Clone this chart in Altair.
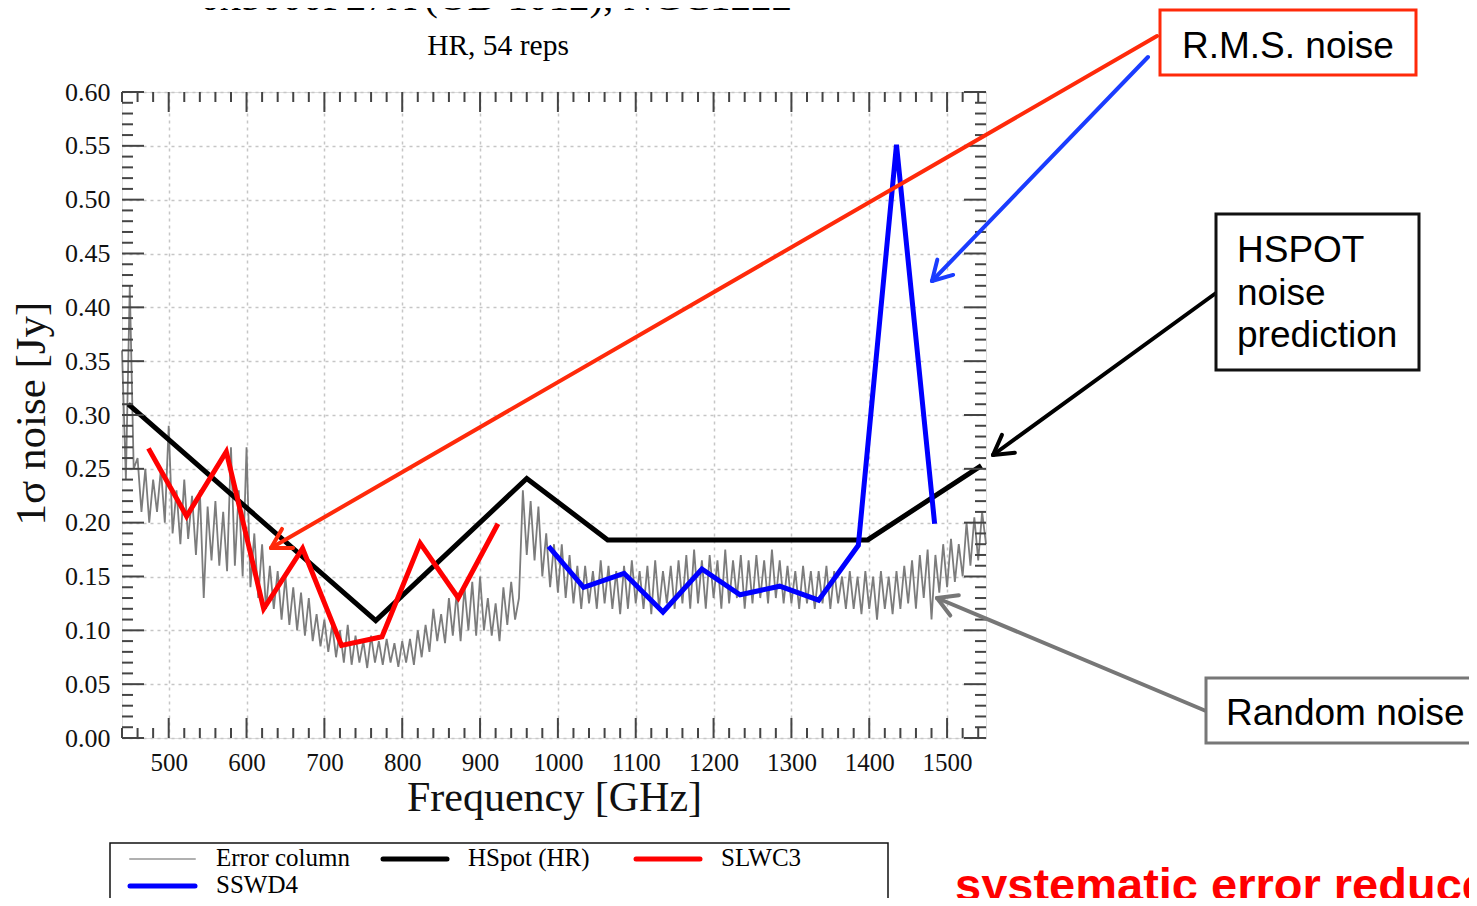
import math
import altair as alt
import pandas as pd

# ---------------- data ----------------
err_freq = list(range(440, 1551, 5))
err_vals = [
    0.36, 0.24, 0.42, 0.25, 0.26, 0.21, 0.25, 0.20, 0.24, 0.21,
    0.25, 0.20, 0.29, 0.19, 0.23, 0.18, 0.24, 0.185, 0.225, 0.17,
    0.23, 0.13, 0.215, 0.165, 0.22, 0.16, 0.21, 0.155, 0.27, 0.16,
    0.23, 0.15, 0.27, 0.14, 0.19, 0.13, 0.18, 0.12, 0.16, 0.12,
    0.155, 0.11, 0.15, 0.105, 0.14, 0.10, 0.135, 0.095, 0.13, 0.09,
    0.115, 0.085, 0.11, 0.08, 0.105, 0.075, 0.10, 0.07, 0.105, 0.068,
    0.095, 0.07, 0.09, 0.065, 0.095, 0.07, 0.09, 0.068, 0.092, 0.07,
    0.088, 0.066, 0.09, 0.07, 0.092, 0.068, 0.10, 0.075, 0.105, 0.08,
    0.12, 0.09, 0.115, 0.088, 0.13, 0.095, 0.135, 0.09, 0.14, 0.10,
    0.145, 0.095, 0.15, 0.10, 0.13, 0.095, 0.125, 0.09, 0.14, 0.105,
    0.145, 0.11, 0.13, 0.23, 0.17, 0.22, 0.165, 0.215, 0.15, 0.19,
    0.14, 0.18, 0.135, 0.18, 0.13, 0.17, 0.125, 0.16, 0.12, 0.16,
    0.125, 0.155, 0.12, 0.165, 0.125, 0.16, 0.12, 0.155, 0.115, 0.16,
    0.12, 0.165, 0.125, 0.155, 0.12, 0.16, 0.115, 0.165, 0.12, 0.155,
    0.125, 0.16, 0.12, 0.165, 0.125, 0.17, 0.12, 0.175, 0.125, 0.165,
    0.12, 0.17, 0.13, 0.165, 0.12, 0.175, 0.125, 0.165, 0.13, 0.17,
    0.12, 0.165, 0.125, 0.17, 0.13, 0.165, 0.125, 0.175, 0.13, 0.165,
    0.125, 0.16, 0.125, 0.155, 0.12, 0.16, 0.125, 0.155, 0.12, 0.155,
    0.125, 0.16, 0.12, 0.155, 0.125, 0.15, 0.12, 0.155, 0.12, 0.15,
    0.115, 0.155, 0.12, 0.15, 0.11, 0.155, 0.12, 0.15, 0.115, 0.155,
    0.12, 0.16, 0.125, 0.165, 0.12, 0.17, 0.13, 0.175, 0.11, 0.17,
    0.135, 0.18, 0.14, 0.185, 0.145, 0.18, 0.15, 0.20, 0.16, 0.205,
    0.165, 0.21, 0.18,
]

hspot_f = [448, 766, 960, 1064, 1398, 1544]
hspot_v = [0.310, 0.109, 0.241, 0.184, 0.184, 0.253]

slwc3_f = [474, 523, 574, 622, 672, 722, 774, 823, 872, 923]
slwc3_v = [0.269, 0.206, 0.266, 0.120, 0.176, 0.086, 0.094, 0.181, 0.130, 0.199]

sswd4_f = [988, 1033, 1085, 1135, 1185, 1234, 1285, 1335, 1386, 1435, 1484]
sswd4_v = [0.178, 0.140, 0.153, 0.117, 0.157, 0.133, 0.141, 0.128, 0.179, 0.551, 0.199]

x_major = [500, 600, 700, 800, 900, 1000, 1100, 1200, 1300, 1400, 1500]
x_minor = [f for f in range(440, 1550, 20) if f % 100 != 0]
y_major = [0.0, 0.05, 0.10, 0.15, 0.20, 0.25, 0.30, 0.35, 0.40, 0.45, 0.50, 0.55, 0.60]
y_minor = [i / 100 for i in range(0, 61) if i % 5 != 0]

# ---------------- layout ----------------
W, H = 864, 646
OX, OY = 122, 92          # page position of plot origin
SERIF = "Liberation Serif"
SANS = "Liberation Sans"

xs = alt.Scale(domain=[440, 1550], nice=False, zero=False)
ys = alt.Scale(domain=[0, 0.6], nice=False, zero=False)


def rx(x):
    return x - OX


def ry(y):
    return y - OY


xaxis = alt.Axis(values=x_major, format="d", ticks=False, tickSize=0, domain=False,
                 grid=True, gridColor="#c6c6c6", gridDash=[3, 4], gridWidth=1.5,
                 labelFont=SERIF, labelFontSize=25, labelColor="#111", labelPadding=12,
                 labelFlush=False, labelOverlap=False,
                 title="Frequency [GHz]", titleFont=SERIF, titleFontSize=42,
                 titleFontWeight="normal", titleColor="#111", titleY=72,
                 titleBaseline="alphabetic")
yaxis = alt.Axis(values=y_major, format=".2f", ticks=False, tickSize=0, domain=False,
                 grid=True, gridColor="#c6c6c6", gridDash=[3, 4], gridWidth=1.5,
                 labelFont=SERIF, labelFontSize=26, labelColor="#111", labelPadding=12,
                 labelFlush=False, labelOverlap=False,
                 title="1σ noise [Jy]", titleFont=SERIF, titleFontSize=43,
                 titleFontWeight="normal", titleColor="#111", titleX=-78, titleY=H / 2 - 2,
                 titleAngle=-90, titleBaseline="alphabetic", titleAlign="center")

XF = alt.X("f:Q", scale=xs, axis=xaxis)
YV = alt.Y("v:Q", scale=ys, axis=yaxis)

err_df = pd.DataFrame({"f": err_freq, "v": err_vals})
gray = alt.Chart(err_df).mark_line(color="#7c7c7c", strokeWidth=1.8).encode(x=XF, y=YV)


def series(fs, vs, color, width):
    return alt.Chart(pd.DataFrame({"f": fs, "v": vs})).mark_line(
        color=color, strokeWidth=width, strokeJoin="miter").encode(x=XF, y=YV)


black = series(hspot_f, hspot_v, "#000000", 5)
red = series(slwc3_f, slwc3_v, "#ff0000", 5)
blue = series(sswd4_f, sswd4_v, "#0000ff", 5)

# ---- ticks on all four sides (inward) ----
tick_col = "#444444"


def xticks(vals, length):
    d = pd.DataFrame({"f": vals})
    base = alt.Chart(d).mark_rule(color=tick_col, strokeWidth=2)
    b = base.encode(x=XF, y=alt.value(H), y2=alt.value(H - length))
    t = base.encode(x=XF, y=alt.value(0), y2=alt.value(length))
    return [b, t]


def yticks(vals, length):
    d = pd.DataFrame({"v": vals})
    base = alt.Chart(d).mark_rule(color=tick_col, strokeWidth=2)
    l = base.encode(y=YV, x=alt.value(0), x2=alt.value(length))
    r = base.encode(y=YV, x=alt.value(W), x2=alt.value(W - length))
    return [l, r]


ticks = xticks(x_major, 20) + xticks(x_minor, 10) + yticks(y_major, 22) + yticks(y_minor, 11)


# ---- annotations (pixel positions) ----
def seg_layer(segs, color, width):
    d = pd.DataFrame(segs, columns=["px", "py", "px2", "py2"])
    return alt.Chart(d).mark_rule(color=color, strokeWidth=width, strokeCap="round").encode(
        x=alt.X("px:Q", scale=None), y=alt.Y("py:Q", scale=None),
        x2="px2:Q", y2="py2:Q")


def arrow(start, tip, color, width=4, L=22, ang=30):
    sx, sy = rx(start[0]), ry(start[1])
    tx, ty = rx(tip[0]), ry(tip[1])
    dx, dy = sx - tx, sy - ty
    n = math.hypot(dx, dy)
    dx, dy = dx / n, dy / n
    segs = [(sx, sy, tx, ty)]
    for a in (ang, -ang):
        r = math.radians(a)
        hx = dx * math.cos(r) - dy * math.sin(r)
        hy = dx * math.sin(r) + dy * math.cos(r)
        segs.append((tx, ty, tx + L * hx, ty + L * hy))
    return seg_layer(segs, color, width)


def box(x1, y1, x2, y2, color, width):
    d = pd.DataFrame({"px": [rx(x1)], "px2": [rx(x2)], "py": [ry(y1)], "py2": [ry(y2)]})
    return alt.Chart(d).mark_rect(fill="white", stroke=color, strokeWidth=width).encode(
        x=alt.X("px:Q", scale=None), x2="px2:Q",
        y=alt.Y("py:Q", scale=None), y2="py2:Q")


def label(text, x, y, size, font, color="#000000", weight="normal", align="left",
          baseline="alphabetic"):
    d = pd.DataFrame({"t": [text]})
    return alt.Chart(d).mark_text(align=align, baseline=baseline, font=font, fontSize=size,
                                  color=color, fontWeight=weight).encode(
        x=alt.value(rx(x)), y=alt.value(ry(y)), text="t:N")


RED_A = "#ff2a0a"
BLUE_A = "#1a3cff"
GRAY_A = "#777777"

annotations = [
    arrow((1157, 36), (271, 548), RED_A),
    arrow((1148, 57), (932, 281), BLUE_A),
    arrow((1216, 293), (993, 455), "#000000"),
    arrow((1206, 711), (937, 598), GRAY_A),
    box(1160, 10, 1416, 75, RED_A, 3),
    box(1216, 214, 1419, 370, "#111111", 3),
    box(1206, 678, 1500, 743, GRAY_A, 3),
    label("R.M.S. noise", 1182, 58, 37, SANS),
    label("HSPOT", 1237, 262, 37, SANS),
    label("noise", 1237, 305, 37, SANS),
    label("prediction", 1237, 347, 37, SANS),
    label("Random noise", 1226, 725, 37, SANS),
    label("systematic error reduced", 955, 901, 47, SANS, color="#ff0000", weight="bold"),
    label("0x5000F27A (OD 1012), NGC1222", 496, 10, 41, SERIF, align="center"),
    label("HR, 54 reps", 498, 55, 29.5, SERIF, align="center"),
]

# ---- legend (drawn below the plot) ----
legend = [
    box(110, 843, 888, 940, "#111111", 1.5),
    seg_layer([(rx(130), ry(859), rx(195), ry(859))], "#b0b0b0", 2),
    seg_layer([(rx(383), ry(859), rx(447), ry(859))], "#000000", 5),
    seg_layer([(rx(636), ry(859), rx(700), ry(859))], "#ff0000", 5),
    seg_layer([(rx(130), ry(886), rx(195), ry(886))], "#0000ff", 5),
    label("Error column", 216, 858, 25, SERIF, baseline="middle"),
    label("HSpot (HR)", 468, 858, 25, SERIF, baseline="middle"),
    label("SLWC3", 721, 858, 25, SERIF, baseline="middle"),
    label("SSWD4", 216, 885, 25, SERIF, baseline="middle"),
]

SVG_W, SVG_H = 1461, 890
chart = alt.layer(gray, black, red, blue, *ticks, *annotations, *legend).properties(
    width=W, height=H,
    autosize=alt.AutoSizeParams(type="none"),
    padding={"left": OX - 8, "top": OY - 8, "right": SVG_W - (OX - 8) - W,
             "bottom": SVG_H - (OY - 8) - H},
).configure_view(stroke="#333333", strokeWidth=2).configure(background="white")

chart.save("out.html", embed_options={"renderer": "svg", "actions": False})
